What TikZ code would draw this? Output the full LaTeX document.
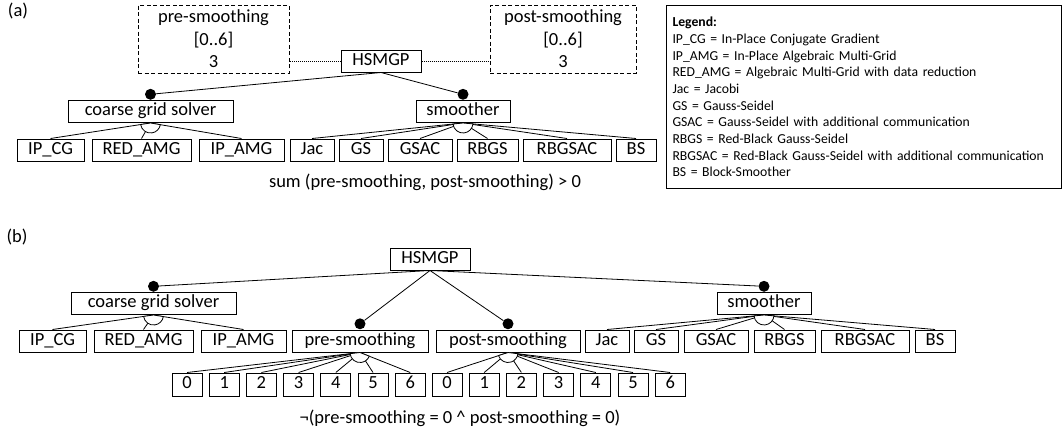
\documentclass[tikz,border=0pt]{standalone}
\usepackage{fontspec}
\setmainfont{Carlito}
\usetikzlibrary{positioning, calc}

\newcommand{\featfont}{\fontsize{18.5}{22.6}\selectfont}
\newcommand{\legfont}{\fontsize{13.7}{16.7}\selectfont}
\newcommand{\altgroup}[3]{%
  \draw[link, fill=white] let \p1=($(#2.north)-(#1.south)$), \p2=($(#3.north)-(#1.south)$),
    \n1={atan2(\y1,\x1)}, \n2={atan2(\y2,\x2)} in
    (#1.south) -- ++(\n1:10pt) arc[start angle=\n1, end angle=\n2, radius=10pt] -- cycle;}

\begin{document}
\begin{tikzpicture}[
    x=1pt, y=1pt,
    node distance=4pt,
    feat/.style={draw, line width=1pt, minimum height=22pt, inner xsep=2pt, inner ysep=2.75pt, text height=12.5pt, text depth=4pt, font=\featfont},
    numbox/.style={feat, minimum width=30pt, minimum height=23pt},
    attr/.style={draw, line width=1pt, dash pattern=on 4pt off 2.5pt, align=center, minimum height=68pt, inner sep=2pt, font=\featfont},
    mand/.style={circle, fill=black, inner sep=0pt, minimum size=11pt},
    link/.style={line width=0.8pt},
    attrlink/.style={line width=0.8pt, dash pattern=on 1pt off 1pt},
    constr/.style={font=\featfont, inner sep=0pt},
    legendbox/.style={draw, line width=1pt, anchor=north west, text width=383pt, inner xsep=6pt, minimum height=183pt, align=left, font=\legfont}
]
    \useasboundingbox (0,0) rectangle (1064,-434);

    % (a)
    \node[constr] (labA) at (18,-11) {(a)};
    \node[attr, minimum width=151pt] (preA) at (213.5,-39) {pre-smoothing\\{[0..6]}\\3};
    \node[feat, minimum width=80pt] (rootA) at (381,-61) {HSMGP};
    \node[attr, minimum width=146pt] (postA) at (563,-39) {post-smoothing\\{[0..6]}\\3};
    \node[feat, minimum width=165pt] (cgsA) at (150.5,-111.5) {coarse grid solver};
    \node[feat, minimum width=94pt] (smA) at (463,-111.5) {smoother};
    \node[mand, above=0pt of cgsA] (cgsAdot) {};
    \node[mand, above=0pt of smA] (smAdot) {};

    \node[feat, minimum width=67pt] (ipcgA) at (50.5,-150) {IP\_CG};
    \node[feat, minimum width=99pt, right=7pt of ipcgA] (redA) {RED\_AMG};
    \node[feat, minimum width=85pt, right=7pt of redA] (ipamgA) {IP\_AMG};
    \node[feat, minimum width=44pt, right=5pt of ipamgA] (jacA) {Jac};
    \node[feat, minimum width=44pt, right=of jacA] (gsA) {GS};
    \node[feat, minimum width=64pt, right=of gsA] (gsacA) {GSAC};
    \node[feat, minimum width=61pt, right=of gsacA] (rbgsA) {RBGS};
    \node[feat, minimum width=88pt, right=of rbgsA] (rbgsacA) {RBGSAC};
    \node[feat, minimum width=40pt, right=of rbgsacA] (bsA) {BS};

    \node[constr] (conA) at (425,-182) {sum (pre-smoothing, post-smoothing) > 0};

    \node[legendbox] (legend) at (666,-5) {\textbf{Legend:}\\
        IP\_CG = In-Place Conjugate Gradient\\
        IP\_AMG = In-Place Algebraic Multi-Grid\\
        RED\_AMG = Algebraic Multi-Grid with data reduction\\
        Jac = Jacobi\\
        GS = Gauss-Seidel\\
        GSAC = Gauss-Seidel with additional communication\\
        RBGS = Red-Black Gauss-Seidel\\
        RBGSAC = Red-Black Gauss-Seidel with additional communication\\
        BS = Block-Smoother};

    \draw[attrlink] (rootA.west) -- (rootA.west -| preA.east);
    \draw[attrlink] (rootA.east) -- (rootA.east -| postA.west);
    \draw[link] (rootA.south) -- (cgsAdot);
    \draw[link] (rootA.south) -- (smAdot);
    \foreach \c in {ipcgA, redA, ipamgA}
        \draw[link] (cgsA.south) -- (\c.north);
    \foreach \c in {jacA, gsA, gsacA, rbgsA, rbgsacA, bsA}
        \draw[link] (smA.south) -- (\c.north);
    \altgroup{cgsA}{ipcgA}{ipamgA}
    \altgroup{smA}{jacA}{bsA}

    % (b)
    \node[constr] (labB) at (17,-237) {(b)};
    \node[feat, minimum width=80pt] (rootB) at (430,-259) {HSMGP};
    \node[feat, minimum width=165pt] (cgsB) at (153.5,-303.5) {coarse grid solver};
    \node[feat, minimum width=94pt] (smB) at (764,-303.5) {smoother};

    \node[feat, minimum width=67pt] (ipcgB) at (52.5,-341) {IP\_CG};
    \node[feat, minimum width=99pt, right=7pt of ipcgB] (redB) {RED\_AMG};
    \node[feat, minimum width=85pt, right=7pt of redB] (ipamgB) {IP\_AMG};
    \node[feat, minimum width=136pt, right=5pt of ipamgB] (preB) {pre-smoothing};
    \node[feat, minimum width=144pt, right=7pt of preB] (postB) {post-smoothing};
    \node[feat, minimum width=44pt, right=of postB] (jacB) {Jac};
    \node[feat, minimum width=44pt, right=of jacB] (gsB) {GS};
    \node[feat, minimum width=64pt, right=5pt of gsB] (gsacB) {GSAC};
    \node[feat, minimum width=61pt, right=5pt of gsacB] (rbgsB) {RBGS};
    \node[feat, minimum width=88pt, right=5pt of rbgsB] (rbgsacB) {RBGSAC};
    \node[feat, minimum width=40pt, right=5pt of rbgsacB] (bsB) {BS};

    \node[mand, above=0pt of cgsB] (cgsBdot) {};
    \node[mand, above=0pt of preB] (preBdot) {};
    \node[mand, above=0pt of postB] (postBdot) {};
    \node[mand, above=0pt of smB] (smBdot) {};

    \foreach \i in {0,...,6} {
        \node[numbox] (preN\i) at ({187+37.2*\i},-384.5) {\i};
        \node[numbox] (postN\i) at ({447+37.2*\i},-384.5) {\i};
    }

    \node[constr] (conB) at (460,-418) {¬(pre-smoothing = 0 \textasciicircum{} post-smoothing = 0)};

    \foreach \d in {cgsBdot, preBdot, postBdot, smBdot}
        \draw[link] (rootB.south) -- (\d);
    \foreach \c in {ipcgB, redB, ipamgB}
        \draw[link] (cgsB.south) -- (\c.north);
    \foreach \c in {jacB, gsB, gsacB, rbgsB, rbgsacB, bsB}
        \draw[link] (smB.south) -- (\c.north);
    \foreach \i in {0,...,6} {
        \draw[link] (preB.south) -- (preN\i.north);
        \draw[link] (postB.south) -- (postN\i.north);
    }
    \altgroup{cgsB}{ipcgB}{ipamgB}
    \altgroup{smB}{jacB}{bsB}
    \altgroup{preB}{preN0}{preN6}
    \altgroup{postB}{postN0}{postN6}
\end{tikzpicture}
\end{document}
